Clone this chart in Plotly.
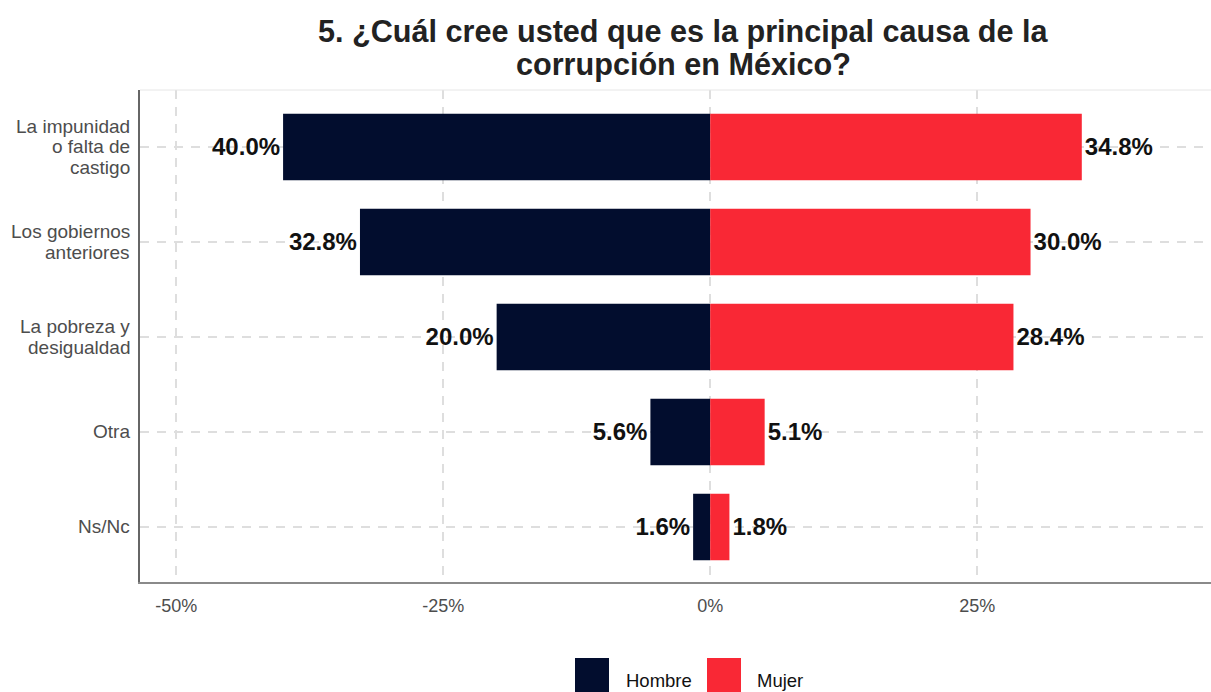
import plotly.graph_objects as go

categories = ["La impunidad o falta de castigo", "Los gobiernos anteriores",
              "La pobreza y desigualdad", "Otra", "Ns/Nc"]
category_labels = [["La impunidad", "o falta de", "castigo"],
                   ["Los gobiernos", "anteriores"],
                   ["La pobreza y", "desigualdad"],
                   ["Otra"],
                   ["Ns/Nc"]]
hombre = [40.0, 32.8, 20.0, 5.6, 1.6]
mujer = [34.8, 30.0, 28.4, 5.1, 1.8]
series_names = ["Hombre", "Mujer"]
colors = ["#020D2E", "#F92835"]
tick_vals = [-50, -25, 0, 25]
tick_text = ["-50%", "-25%", "0%", "25%"]
title_lines = ["5. ¿Cuál cree usted que es la principal causa de la",
               "corrupción en México?"]

FONT = "Liberation Sans, Arial, sans-serif"
LABEL_FONT = dict(family=FONT, size=24, color="#111111", weight="bold")

fig = go.Figure()
fig.add_trace(go.Bar(
    y=categories, x=[-v for v in hombre], orientation="h", name=series_names[0],
    marker=dict(color=colors[0], line=dict(width=0)),
    text=[f"{v:.1f}%" for v in hombre], textposition="outside",
    textfont=LABEL_FONT, cliponaxis=False, width=0.7, showlegend=False))
fig.add_trace(go.Bar(
    y=categories, x=mujer, orientation="h", name=series_names[1],
    marker=dict(color=colors[1], line=dict(width=0)),
    text=[f"{v:.1f}%" for v in mujer], textposition="outside",
    textfont=LABEL_FONT, cliponaxis=False, width=0.7, showlegend=False))

W, H = 1211, 692
ml, mr, mt, mb = 140, 0, 90, 110
fig.update_layout(
    width=W, height=H, barmode="relative",
    margin=dict(l=ml, r=mr, t=mt, b=mb),
    paper_bgcolor="white", plot_bgcolor="white",
    font=dict(family=FONT, color="#4d4d4d", size=18),
    xaxis=dict(range=[-53.4, 46.9], tickvals=tick_vals, ticktext=tick_text,
               showgrid=True, gridcolor="#dedede", gridwidth=1.5, griddash="9px,8px",
               zeroline=False, showline=True, linecolor="#8a8a8a", linewidth=1.5,
               ticks="", ticklabelstandoff=7,
               tickfont=dict(family=FONT, size=18, color="#4d4d4d")),
    yaxis=dict(categoryorder="array", categoryarray=categories, autorange=False,
               range=[4.58, -0.6], showgrid=True, gridcolor="#dedede", gridwidth=1.5,
               griddash="9px,8px", zeroline=False, showline=True, linecolor="#666666",
               linewidth=1.5, ticks="", showticklabels=False),
    showlegend=False,
)

# top panel border
fig.add_shape(type="line", xref="paper", yref="paper", x0=0, x1=1, y0=1, y1=1,
              line=dict(color="#e6e6e6", width=1))

pw = W - ml - mr
ph = H - mt - mb
def px(x):
    return (x - ml) / pw
def py(y):
    return (H - mb - y) / ph

# category labels (tight line spacing)
for cat, lines in zip(categories, category_labels):
    n = len(lines)
    for j, line in enumerate(lines):
        fig.add_annotation(xref="paper", yref="y", x=0, y=cat, text=line,
                           showarrow=False, xanchor="right", yanchor="middle",
                           xshift=-8, yshift=-(j - (n - 1) / 2) * 20.5,
                           font=dict(family=FONT, size=19, color="#4d4d4d"))

# title
for line, yc in zip(title_lines, [31, 64]):
    fig.add_annotation(xref="paper", yref="paper", x=px(683), y=py(yc), text=line,
                       showarrow=False, xanchor="center", yanchor="middle",
                       font=dict(family=FONT, size=30.6, color="#222222", weight="bold"))

# legend
legend_items = [(575, 609, 624), (707, 741, 755)]
for (x0, x1, tx), name, col in zip(legend_items, series_names, colors):
    fig.add_shape(type="rect", xref="paper", yref="paper",
                  x0=px(x0), x1=px(x1), y0=py(700), y1=py(658),
                  fillcolor=col, line=dict(color=col, width=0))
    fig.add_annotation(xref="paper", yref="paper", x=px(tx), y=py(680), text=name,
                       showarrow=False, xanchor="left", yanchor="middle",
                       font=dict(family=FONT, size=18.5, color="#111111"))

fig.write_html("out.html", config={"displayModeBar": False},
               post_script="document.body.style.margin='0';document.body.style.overflow='hidden';")
